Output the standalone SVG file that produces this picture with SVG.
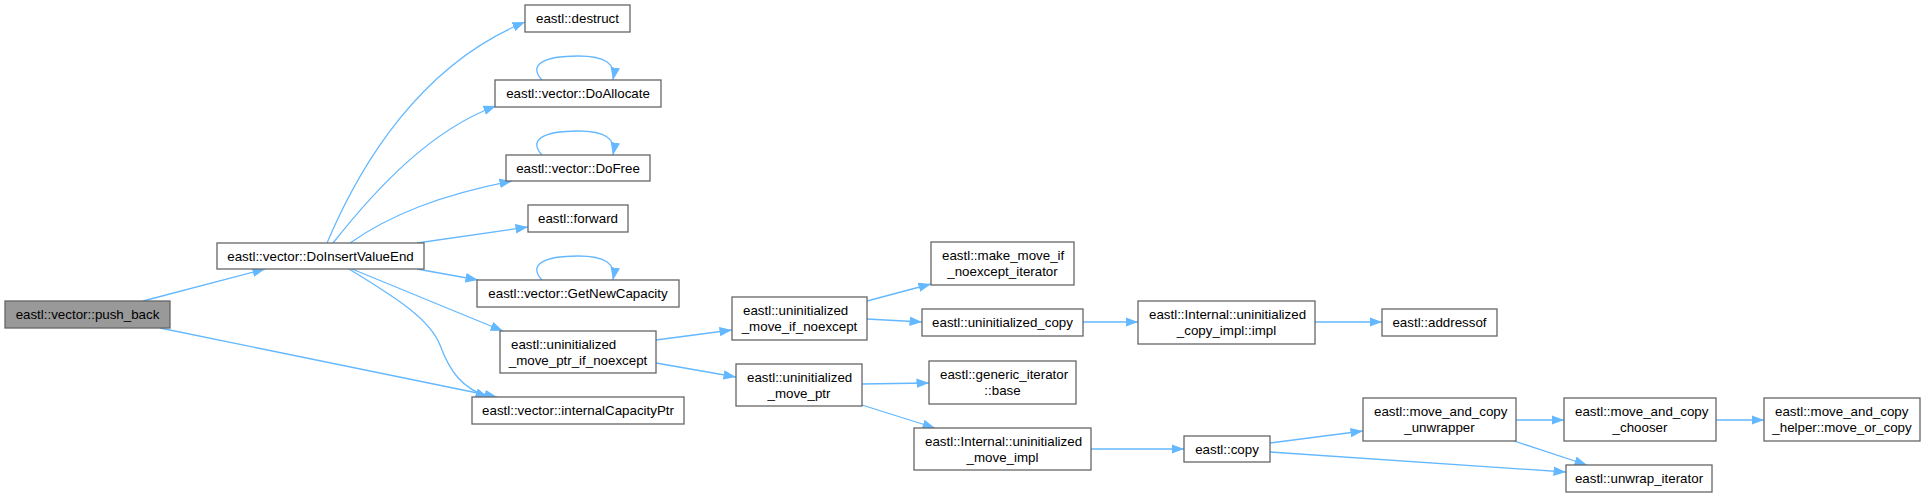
<svg xmlns="http://www.w3.org/2000/svg" width="1926" height="497" viewBox="0 0 1926 497">
<style>
.n rect{fill:#ffffff;stroke:#666666;stroke-width:1.3}
.n.root rect{fill:#999999}
.n text{font-family:"Liberation Sans",Arial,sans-serif;font-size:13.33px;fill:#000000}
.m{text-anchor:middle}
.s{text-anchor:start}
#edges path{fill:none;stroke:#63b8ff;stroke-width:1.3;marker-end:url(#ah)}
</style>
<defs>
<marker id="ah" markerUnits="userSpaceOnUse" markerWidth="13" markerHeight="10" refX="12.5" refY="4.75" orient="auto" viewBox="0 0 13 9.5">
<path d="M0,0 L12.5,4.75 L0,9.5 z" fill="#63b8ff" stroke="none"/>
</marker>
</defs>
<rect width="1926" height="497" fill="#ffffff"/>
<g id="edges">
<path d="M143,301 L265,269"/>
<path d="M160,328 L497,397"/>
<path d="M327,243 C360,165 420,65 525,22"/>
<path d="M333,243 C375,190 430,130 496,106"/>
<path d="M350,243 C390,215 440,195 512,181"/>
<path d="M417,243 L528,227"/>
<path d="M417,269 L478,280"/>
<path d="M352,269 L503,331"/>
<path d="M349,269 C400,300 430,320 440,345 C450,372 462,388 488,397"/>
<path d="M542,80 C528,65 543,56 578,56 C606,56 616,64 613,80"/>
<path d="M542,155 C528,140 543,131 578,131 C606,131 616,139 613,155"/>
<path d="M542,280 C528,265 543,256 578,256 C606,256 616,264 613,280"/>
<path d="M656,340 L732,330"/>
<path d="M656,363 L736,377"/>
<path d="M867,301 L931,284"/>
<path d="M867,319 L922,322"/>
<path d="M1083,322 L1138,322"/>
<path d="M1315,322 L1382,322"/>
<path d="M862,384 L929,383"/>
<path d="M862,405 L935,428"/>
<path d="M1091,449 L1184,449"/>
<path d="M1270,443 L1363,431"/>
<path d="M1270,452 L1566,472"/>
<path d="M1516,420 L1564,420"/>
<path d="M1716,420 L1764,420"/>
<path d="M1514,441 L1587,465"/>
</g>
<g id="n0" class="n root"><rect x="5" y="301" width="165" height="27"/><text class="m" x="87.5" y="319">eastl::vector::push_back</text></g>
<g id="n1" class="n"><rect x="217" y="243" width="207" height="26"/><text class="m" x="320.5" y="260.5">eastl::vector::DoInsertValueEnd</text></g>
<g id="n2" class="n"><rect x="525" y="5" width="105" height="27"/><text class="m" x="577.5" y="23">eastl::destruct</text></g>
<g id="n3" class="n"><rect x="495" y="80" width="166" height="27"/><text class="m" x="578" y="98">eastl::vector::DoAllocate</text></g>
<g id="n4" class="n"><rect x="506" y="155" width="144" height="26"/><text class="m" x="578" y="172.5">eastl::vector::DoFree</text></g>
<g id="n5" class="n"><rect x="528" y="205" width="100" height="27"/><text class="m" x="578" y="223">eastl::forward</text></g>
<g id="n6" class="n"><rect x="477" y="280" width="202" height="27"/><text class="m" x="578" y="298">eastl::vector::GetNewCapacity</text></g>
<g id="n7" class="n"><rect x="500" y="331" width="156" height="42"/><text class="s" x="511" y="348.5">eastl::uninitialized</text><text class="m" x="578" y="364.5">_move_ptr_if_noexcept</text></g>
<g id="n8" class="n"><rect x="472" y="397" width="212" height="27"/><text class="m" x="578" y="415">eastl::vector::internalCapacityPtr</text></g>
<g id="n9" class="n"><rect x="732" y="297" width="135" height="43"/><text class="s" x="743" y="315">eastl::uninitialized</text><text class="m" x="799.5" y="331">_move_if_noexcept</text></g>
<g id="n10" class="n"><rect x="736" y="364" width="126" height="42"/><text class="s" x="747" y="381.5">eastl::uninitialized</text><text class="m" x="799" y="397.5">_move_ptr</text></g>
<g id="n11" class="n"><rect x="931" y="242" width="143" height="43"/><text class="s" x="942" y="260">eastl::make_move_if</text><text class="m" x="1002.5" y="276">_noexcept_iterator</text></g>
<g id="n12" class="n"><rect x="922" y="309" width="161" height="27"/><text class="m" x="1002.5" y="327">eastl::uninitialized_copy</text></g>
<g id="n13" class="n"><rect x="1138" y="301" width="177" height="43"/><text class="s" x="1149" y="319">eastl::Internal::uninitialized</text><text class="m" x="1226.5" y="335">_copy_impl::impl</text></g>
<g id="n14" class="n"><rect x="1382" y="309" width="115" height="27"/><text class="m" x="1439.5" y="327">eastl::addressof</text></g>
<g id="n15" class="n"><rect x="929" y="361" width="147" height="43"/><text class="s" x="940" y="379">eastl::generic_iterator</text><text class="m" x="1002.5" y="395">::base</text></g>
<g id="n16" class="n"><rect x="914" y="428" width="177" height="42"/><text class="s" x="925" y="445.5">eastl::Internal::uninitialized</text><text class="m" x="1002.5" y="461.5">_move_impl</text></g>
<g id="n17" class="n"><rect x="1184" y="436" width="86" height="26"/><text class="m" x="1227" y="453.5">eastl::copy</text></g>
<g id="n18" class="n"><rect x="1363" y="398" width="153" height="43"/><text class="s" x="1374" y="416">eastl::move_and_copy</text><text class="m" x="1439.5" y="432">_unwrapper</text></g>
<g id="n19" class="n"><rect x="1564" y="398" width="152" height="43"/><text class="s" x="1575" y="416">eastl::move_and_copy</text><text class="m" x="1640" y="432">_chooser</text></g>
<g id="n20" class="n"><rect x="1764" y="398" width="156" height="43"/><text class="s" x="1775" y="416">eastl::move_and_copy</text><text class="m" x="1842" y="432">_helper::move_or_copy</text></g>
<g id="n21" class="n"><rect x="1566" y="465" width="146" height="27"/><text class="m" x="1639" y="483">eastl::unwrap_iterator</text></g>
</svg>
